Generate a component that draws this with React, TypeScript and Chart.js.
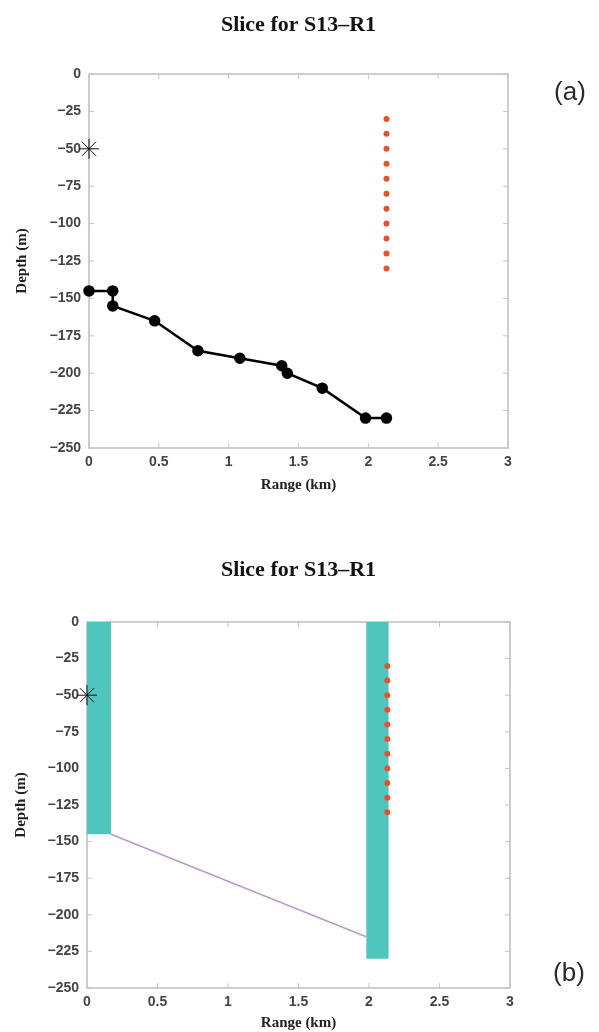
import React, { useEffect, useRef } from "react";
import { Chart, registerables } from "chart.js";

Chart.register(...registerables);

// ---- data ----
const xTickValues = [0, 0.5, 1, 1.5, 2, 2.5, 3];
const yTickValues = [0, -25, -50, -75, -100, -125, -150, -175, -200, -225, -250];

const bathyRange = [0, 0.17, 0.17, 0.47, 0.78, 1.08, 1.38, 1.42, 1.67, 1.98, 2.13];
const bathyDepth = [-145, -145, -155, -165, -185, -190, -195, -200, -210, -230, -230];

const sourceRange = [0];
const sourceDepth = [-50];

const receiverRange = [2.13, 2.13, 2.13, 2.13, 2.13, 2.13, 2.13, 2.13, 2.13, 2.13, 2.13];
const receiverDepth = [-30, -40, -50, -60, -70, -80, -90, -100, -110, -120, -130];

const leftColumnRange = [0, 0.17];
const leftColumnDepth = [-145, -145];
const rightColumnRange = [1.98, 2.14];
const rightColumnDepth = [-230, -230];
const slopeRange = [0.17, 1.98];
const slopeDepth = [-145, -215];

const titleText = "Slice for S13\u2013R1";
const xLabel = "Range (km)";
const yLabel = "Depth (m)";

// ---- helpers ----
const pts = (xs: number[], ys: number[]) => xs.map((x, i) => ({ x, y: ys[i] }));
const fmt = (v: number) => String(v).replace("-", "\u2212");

const TEAL = "#4fc5bd";
const RED = "#e8512d";
const PURPLE = "#b99ac6";

type Layout = {
  canvasH: number;
  left: number;
  right: number;
  top: number;
  bottom: number;
  titleY: number;
  rangeY: number;
  depthX: number;
  panel: string;
  panelX: number;
  panelY: number;
};

const W = 599;

function makeOptions(L: Layout): any {
  const decor = {
    id: "decor",
    beforeDatasetsDraw(chart: any) {
      const { ctx, chartArea } = chart;
      const { left, right, top, bottom } = chartArea;
      const xs = chart.scales.x;
      const ys = chart.scales.y;
      ctx.save();
      ctx.strokeStyle = "#bdbdbd";
      ctx.lineWidth = 1.5;
      ctx.strokeRect(left, top, right - left, bottom - top);
      ctx.lineWidth = 1;
      ctx.strokeStyle = "#c4c4c4";
      ctx.beginPath();
      xTickValues.forEach((v) => {
        const px = xs.getPixelForValue(v);
        ctx.moveTo(px, bottom);
        ctx.lineTo(px, bottom - 5);
        ctx.moveTo(px, top);
        ctx.lineTo(px, top + 5);
      });
      yTickValues.forEach((v) => {
        const py = ys.getPixelForValue(v);
        ctx.moveTo(left, py);
        ctx.lineTo(left + 5, py);
        ctx.moveTo(right, py);
        ctx.lineTo(right - 5, py);
      });
      ctx.stroke();
      ctx.restore();
    },
    afterDraw(chart: any) {
      const { ctx, chartArea } = chart;
      const cx = (chartArea.left + chartArea.right) / 2;
      const cy = (chartArea.top + chartArea.bottom) / 2;
      ctx.save();
      ctx.fillStyle = "#111";
      ctx.textAlign = "center";
      ctx.textBaseline = "middle";
      ctx.font = "bold 22px 'Liberation Serif', 'Times New Roman', serif";
      ctx.fillText(titleText, cx, L.titleY);
      ctx.fillStyle = "#222";
      ctx.font = "bold 15px 'Liberation Serif', 'Times New Roman', serif";
      ctx.fillText(xLabel, cx, L.rangeY);
      ctx.save();
      ctx.translate(L.depthX, cy);
      ctx.rotate(-Math.PI / 2);
      ctx.fillText(yLabel, 0, 0);
      ctx.restore();
      ctx.fillStyle = "#2a2a2a";
      ctx.font = "26px 'Liberation Sans', Arial, sans-serif";
      ctx.fillText(L.panel, L.panelX, L.panelY);
      ctx.restore();
    },
  };

  const tickFont = { family: "'Liberation Sans', Arial, sans-serif", size: 14, weight: "bold" as const };
  return {
    plugin: decor,
    options: {
      animation: false,
      responsive: false,
      maintainAspectRatio: false,
      layout: { padding: { left: 0, right: W - L.right, top: L.top, bottom: 0 } },
      plugins: { legend: { display: false }, tooltip: { enabled: false }, title: { display: false } },
      scales: {
        x: {
          type: "linear",
          position: "bottom",
          min: 0,
          max: 3,
          afterBuildTicks: (s: any) => {
            s.ticks = xTickValues.map((v) => ({ value: v }));
          },
          afterFit: (s: any) => {
            s.height = L.canvasH - L.bottom;
          },
          grid: { display: false, drawTicks: false },
          border: { display: false },
          ticks: {
            font: tickFont,
            color: "#444",
            padding: 6,
            maxRotation: 0,
            autoSkip: false,
            callback: (v: any) => fmt(Number(v)),
          },
        },
        y: {
          type: "linear",
          position: "left",
          min: -250,
          max: 0,
          afterBuildTicks: (s: any) => {
            s.ticks = yTickValues.map((v) => ({ value: v }));
          },
          afterFit: (s: any) => {
            s.width = L.left;
          },
          grid: { display: false, drawTicks: false },
          border: { display: false },
          ticks: {
            font: tickFont,
            color: "#444",
            padding: 8,
            autoSkip: false,
            callback: (v: any) => fmt(Number(v)),
          },
        },
      },
    },
  };
}

const layoutA: Layout = {
  canvasH: 520,
  left: 89,
  right: 508,
  top: 74,
  bottom: 448,
  titleY: 25,
  rangeY: 485,
  depthX: 22,
  panel: "(a)",
  panelX: 570,
  panelY: 93,
};

const OFF_B = 530;
const layoutB: Layout = {
  canvasH: 502,
  left: 87,
  right: 510,
  top: 622 - OFF_B,
  bottom: 988 - OFF_B,
  titleY: 570 - OFF_B,
  rangeY: 1023 - OFF_B,
  depthX: 21,
  panel: "(b)",
  panelX: 569,
  panelY: 974 - OFF_B,
};

function sourceDataset() {
  return {
    type: "scatter",
    order: 0,
    data: pts(sourceRange, sourceDepth),
    pointStyle: "star",
    pointRadius: 10,
    borderColor: "#111",
    backgroundColor: "#111",
    pointBorderWidth: 1,
    borderWidth: 1,
    showLine: false,
    clip: false,
  };
}

function receiverDataset() {
  return {
    type: "scatter",
    order: 1,
    data: pts(receiverRange, receiverDepth),
    pointRadius: 3,
    pointBackgroundColor: RED,
    pointBorderColor: RED,
    borderWidth: 0,
    showLine: false,
    clip: false,
  };
}

function PanelChart({ which }: { which: "a" | "b" }) {
  const ref = useRef<HTMLCanvasElement | null>(null);
  useEffect(() => {
    if (!ref.current) return;
    const L = which === "a" ? layoutA : layoutB;
    const { plugin, options } = makeOptions(L);
    const datasets: any[] =
      which === "a"
        ? [
            {
              type: "line",
              order: 2,
              data: pts(bathyRange, bathyDepth),
              borderColor: "#000",
              borderWidth: 2.5,
              pointRadius: 4.5,
              pointBackgroundColor: "#000",
              pointBorderColor: "#000",
              fill: false,
              tension: 0,
              clip: false,
            },
            receiverDataset(),
            sourceDataset(),
          ]
        : [
            {
              type: "line",
              order: 4,
              data: pts(leftColumnRange, leftColumnDepth),
              borderWidth: 0,
              borderColor: TEAL,
              backgroundColor: TEAL,
              pointRadius: 0,
              fill: "end",
            },
            {
              type: "line",
              order: 4,
              data: pts(rightColumnRange, rightColumnDepth),
              borderWidth: 0,
              borderColor: TEAL,
              backgroundColor: TEAL,
              pointRadius: 0,
              fill: "end",
            },
            {
              type: "line",
              order: 3,
              data: pts(slopeRange, slopeDepth),
              borderWidth: 1.5,
              borderColor: PURPLE,
              pointRadius: 0,
              fill: false,
            },
            receiverDataset(),
            sourceDataset(),
          ];
    const chart = new Chart(ref.current, {
      type: "scatter",
      data: { datasets },
      options,
      plugins: [plugin],
    } as any);
    return () => chart.destroy();
  }, [which]);
  const L = which === "a" ? layoutA : layoutB;
  return (
    <canvas
      ref={ref}
      width={W}
      height={L.canvasH}
      style={{
        position: "absolute",
        left: 0,
        top: which === "a" ? 0 : OFF_B,
        width: W,
        height: L.canvasH,
      }}
    />
  );
}

export default function App() {
  return (
    <div style={{ position: "absolute", left: 0, top: 0, width: W, height: 1032, background: "#fff" }}>
      <PanelChart which="a" />
      <PanelChart which="b" />
    </div>
  );
}
